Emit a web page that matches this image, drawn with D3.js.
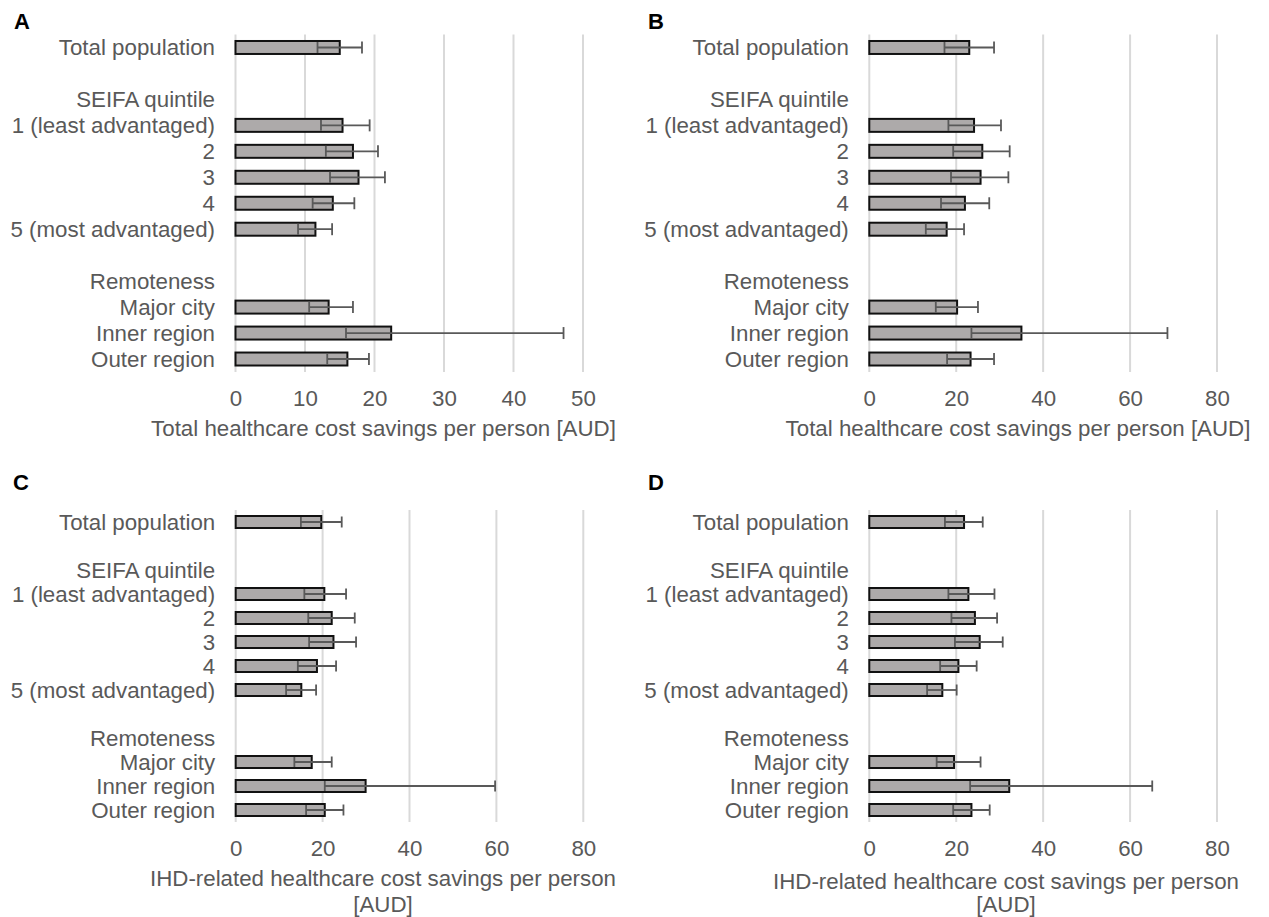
<!DOCTYPE html>
<html><head><meta charset="utf-8">
<script src="https://cdn.jsdelivr.net/npm/d3@7"></script>
<style>
html,body{margin:0;padding:0;background:#fff;}
svg text{font-family:"Liberation Sans",Arial,sans-serif;}
</style></head>
<body>
<svg id="chart" width="1269" height="917"></svg>
<script>
const categories = ["Total population", "", "SEIFA quintile", "1 (least advantaged)", "2", "3", "4", "5 (most advantaged)", "", "Remoteness", "Major city", "Inner region", "Outer region"];

// Panel A: total healthcare cost savings per person
const meanA  = [15.0, null, null, 15.4, 16.9, 17.7, 14.0, 11.5, null, null, 13.4, 22.4, 16.1];
const lowerA = [11.8, null, null, 12.3, 13.0, 13.6, 11.1,  9.0, null, null, 10.6, 15.9, 13.2];
const upperA = [18.2, null, null, 19.3, 20.5, 21.5, 17.1, 13.9, null, null, 16.9, 47.2, 19.2];

// Panel B: total healthcare cost savings per person
const meanB  = [23.0, null, null, 24.1, 26.0, 25.6, 22.0, 17.8, null, null, 20.2, 35.0, 23.3];
const lowerB = [17.3, null, null, 18.2, 19.3, 18.8, 16.5, 13.0, null, null, 15.3, 23.5, 17.9];
const upperB = [28.7, null, null, 30.3, 32.3, 32.0, 27.6, 21.8, null, null, 25.0, 68.6, 28.7];

// Panel C: IHD-related healthcare cost savings per person
const meanC  = [19.7, null, null, 20.4, 22.1, 22.5, 18.7, 15.1, null, null, 17.5, 29.9, 20.5];
const lowerC = [15.0, null, null, 15.8, 16.7, 16.9, 14.3, 11.6, null, null, 13.5, 20.5, 16.2];
const upperC = [24.4, null, null, 25.4, 27.4, 27.7, 23.1, 18.5, null, null, 22.1, 59.7, 24.8];

// Panel D: IHD-related healthcare cost savings per person
const meanD  = [21.8, null, null, 22.8, 24.3, 25.4, 20.5, 16.8, null, null, 19.5, 32.2, 23.5];
const lowerD = [17.4, null, null, 18.2, 18.9, 19.7, 16.3, 13.3, null, null, 15.5, 23.2, 19.3];
const upperD = [26.1, null, null, 28.8, 29.4, 30.7, 24.7, 20.1, null, null, 25.6, 65.1, 27.7];

const ticksA = [0, 10, 20, 30, 40, 50];
const ticksB = [0, 20, 40, 60, 80];
const titleTotal = ["Total healthcare cost savings per person [AUD]"];
const titleIHD = ["IHD-related healthcare cost savings per person", "[AUD]"];

const panels = [
  {letter:"A", mean:meanA, lower:lowerA, upper:upperA, max:50, ticks:ticksA, title:titleTotal,
   lx:14, ly:29, x0:235.5, x1:583, y0:34.5, y1:372, titleX:383.5, titleY:[436]},
  {letter:"B", mean:meanB, lower:lowerB, upper:upperB, max:80, ticks:ticksB, title:titleTotal,
   lx:648, ly:29, x0:869.3, x1:1217, y0:34.5, y1:372, titleX:1018, titleY:[436]},
  {letter:"C", mean:meanC, lower:lowerC, upper:upperC, max:80, ticks:ticksB, title:titleIHD,
   lx:13, ly:490, x0:235.7, x1:583.3, y0:510, y1:822, titleX:383, titleY:[886, 911.5]},
  {letter:"D", mean:meanD, lower:lowerD, upper:upperD, max:80, ticks:ticksB, title:titleIHD,
   lx:648, ly:490, x0:869.3, x1:1217, y0:510, y1:822, titleX:1006, titleY:[888.5, 911.5]}
];

const svg = d3.select("#chart");
const textColor = "#595959";
const fs = 22.3;

panels.forEach(p => {
  const g = svg.append("g");
  const x = d3.scaleLinear().domain([0, p.max]).range([p.x0, p.x1]);
  const y = d3.scaleBand().domain(d3.range(categories.length)).range([p.y0, p.y1])
              .paddingInner(0.5).paddingOuter(0.25);

  // gridlines
  g.append("g").selectAll("line").data(p.ticks).join("line")
    .attr("x1", d => x(d)).attr("x2", d => x(d))
    .attr("y1", p.y0).attr("y2", p.y1)
    .attr("stroke", "#d9d9d9").attr("stroke-width", 2);

  // tick labels (axis)
  const axis = d3.axisBottom(x).tickValues(p.ticks).tickSize(0).tickPadding(0);
  const ag = g.append("g").attr("transform", `translate(0,${p.y1 + 18})`).call(axis);
  ag.select(".domain").remove();
  ag.selectAll("text").attr("font-size", fs).attr("fill", textColor)
    .attr("font-family", "Liberation Sans, Arial, sans-serif");

  // category labels
  g.append("g").selectAll("text").data(categories).join("text")
    .attr("x", p.x0 - 20.5)
    .attr("y", (d, i) => y(i) + y.bandwidth() / 2)
    .attr("dy", "0.35em")
    .attr("text-anchor", "end")
    .attr("font-size", fs).attr("fill", textColor)
    .text(d => d);

  const idx = d3.range(categories.length).filter(i => p.mean[i] != null);

  // bars
  g.append("g").selectAll("rect").data(idx).join("rect")
    .attr("x", x(0))
    .attr("y", i => y(i))
    .attr("width", i => x(p.mean[i]) - x(0))
    .attr("height", y.bandwidth())
    .attr("fill", "#adaaaa")
    .attr("stroke", "#111").attr("stroke-width", 2);

  // error bars
  const eg = g.append("g").attr("stroke", "#595959").attr("stroke-width", 1.8);
  eg.selectAll("line.h").data(idx).join("line").attr("class", "h")
    .attr("x1", i => x(p.lower[i])).attr("x2", i => x(p.upper[i]))
    .attr("y1", i => y(i) + y.bandwidth() / 2).attr("y2", i => y(i) + y.bandwidth() / 2);
  eg.selectAll("line.lo").data(idx).join("line").attr("class", "lo")
    .attr("x1", i => x(p.lower[i])).attr("x2", i => x(p.lower[i]))
    .attr("y1", i => y(i) + 1).attr("y2", i => y(i) + y.bandwidth() - 1);
  eg.selectAll("line.up").data(idx).join("line").attr("class", "up")
    .attr("x1", i => x(p.upper[i])).attr("x2", i => x(p.upper[i]))
    .attr("y1", i => y(i) + 0.5).attr("y2", i => y(i) + y.bandwidth() - 0.5);

  // axis title
  g.append("g").selectAll("text").data(p.title).join("text")
    .attr("x", p.titleX).attr("y", (d, i) => p.titleY[i])
    .attr("text-anchor", "middle")
    .attr("font-size", fs).attr("fill", textColor)
    .text(d => d);

  // panel letter
  g.append("text").attr("x", p.lx).attr("y", p.ly)
    .attr("font-size", 22).attr("font-weight", "bold").attr("fill", "#000")
    .text(p.letter);
});
</script>
</body></html>
